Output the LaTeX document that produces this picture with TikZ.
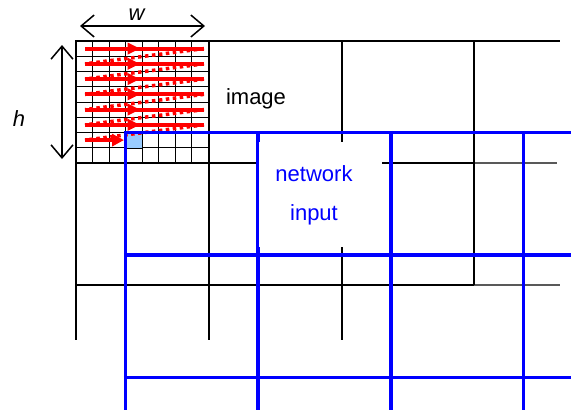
\documentclass[tikz,border=0pt]{standalone}
\usepackage{fontspec}
\setmainfont{Liberation Sans}
\usetikzlibrary{arrows.meta,decorations.markings}
\definecolor{cellblue}{RGB}{153,204,255}
\definecolor{netblue}{RGB}{0,0,255}
\definecolor{scanred}{RGB}{255,0,0}
\begin{document}
\begin{tikzpicture}[x=1pt,y=-1pt,
  imgline/.style={line width=2pt,black},
  faintline/.style={line width=1.2pt,black!65},
  fineline/.style={line width=0.9pt,black},
  netline/.style={line width=3.5pt,netblue},
  scanrow/.style={line width=4pt,scanred,
    decoration={markings,mark=at position 0.46 with {\arrow[scanred,line width=0pt]{Triangle[length=12pt,width=12pt]}}},
    postaction=decorate},
  scanback/.style={line width=3.5pt,scanred,dash pattern=on 3.5pt off 3.5pt},
  dimarrow/.style={line width=1.5pt,
    {Straight Barb[length=13pt,width=22pt]}-{Straight Barb[length=13pt,width=22pt]}},
  lab/.style={font=\fontsize{22}{26}\selectfont,inner sep=0pt,anchor=base},
  netlab/.style={lab,text=netblue}]
\useasboundingbox (0,0) rectangle (571,413);

% fine pixel grid inside the first image cell
\foreach \i in {1,...,7} {
  \draw[fineline] ({76+16.5*\i},41) -- ({76+16.5*\i},163);
  \draw[fineline] (76,{41+15.25*\i}) -- (208.5,{41+15.25*\i});
}

% coarse image grid
\draw[imgline] (75,41) -- (560,41);
\draw[imgline] (75,163) -- (474,163);
\draw[faintline] (474,163) -- (557,163);
\draw[imgline] (75,285) -- (474,285);
\draw[faintline] (474,285) -- (560,285);
\foreach \x in {76,208.5,341.5} \draw[imgline] (\x,40) -- (\x,340);
\draw[imgline] (474,40) -- (474,285);

% current pixel
\node[draw,fill=cellblue,line width=1.2pt,inner sep=0pt,minimum width=16.5pt,
  minimum height=15.25pt,anchor=north west] (pix) at (125.5,132.5) {};

% scan order: rows left to right, dotted returns
\foreach \k in {0,...,5} {
  \coordinate (a\k) at (85,{48.6+15.25*\k});
  \coordinate (b\k) at (204,{48.6+15.25*\k});
}
\coordinate (a6) at (85,140.1);
\coordinate (b6) at (124,140.1);
\foreach \k [evaluate=\k as \j using int(\k+1)] in {0,...,5}
  \draw[scanback] (b\k) -- (a\j);
\foreach \k in {0,...,5}
  \draw[scanrow] (a\k) -- (b\k);
\draw[line width=4pt,scanred,-{Triangle[length=12pt,width=12pt]}] (a6) -- (b6);

% network input grid
\foreach \x in {125.5,258.2,390.9,523.6} \draw[netline] (\x,130.75) -- (\x,410);
\foreach \y in {132.5,255,377.5} \draw[netline] (123.75,\y) -- (571,\y);

% window size arrows
\coordinate (wl) at (80,26);
\coordinate (wr) at (205,26);
\draw[dimarrow] (wl) -- (wr);
\coordinate (ht) at (62,45);
\coordinate (hb) at (62,159);
\draw[dimarrow] (ht) -- (hb);

% labels
\node[lab] (wlab) at (136.5,20) {\itshape w};
\node[lab] (hlab) at (19,126.5) {\itshape h};
\node[lab] (imglab) at (256,104) {image};
\node[fill=white,inner sep=0pt,minimum width=123pt,minimum height=105pt] (mask) at (320.5,194.5) {};
\node[netlab] (netlab) at (314,181.5) {network};
\node[netlab] (inlab) at (314,220.5) {input};
\end{tikzpicture}
\end{document}
